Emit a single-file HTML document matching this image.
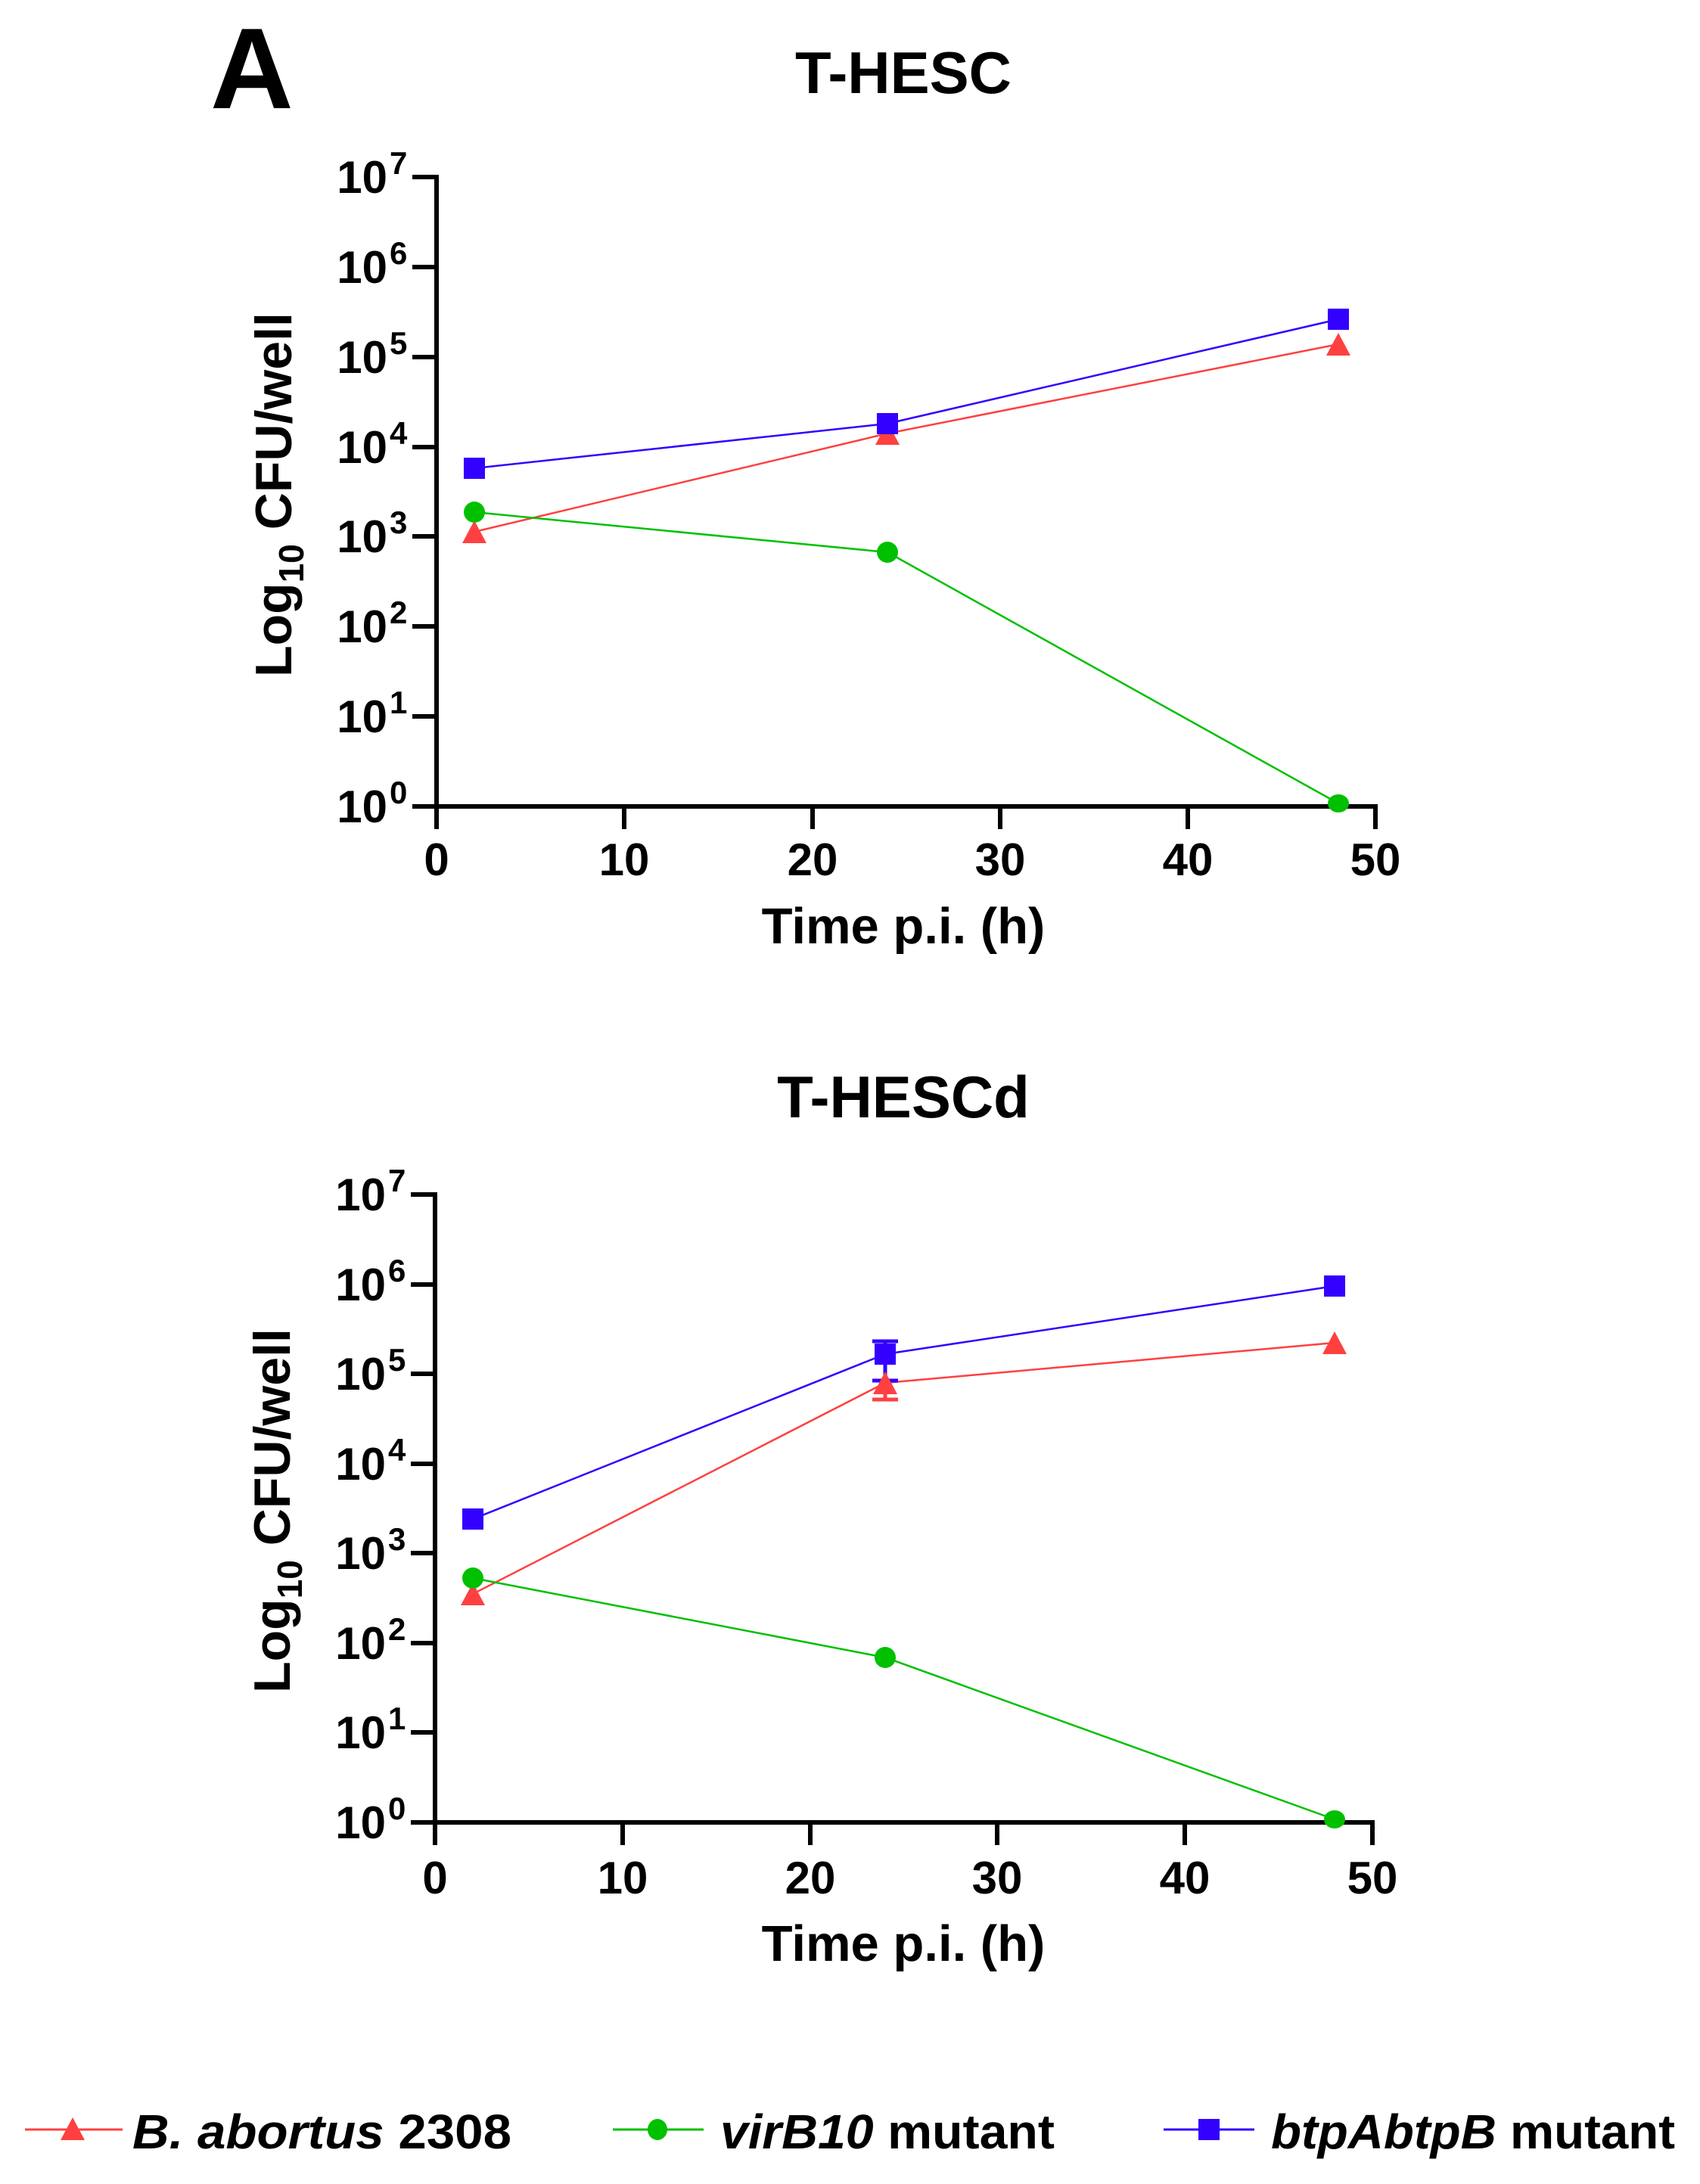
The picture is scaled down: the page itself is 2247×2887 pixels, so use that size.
<!DOCTYPE html>
<html><head><meta charset="utf-8"><style>
html,body{margin:0;padding:0;background:#fff;}
svg{display:block;}
text{font-family:"Liberation Sans",Arial,sans-serif;font-weight:bold;fill:#000;}
</style></head><body>
<svg width="2247" height="2887" viewBox="0 0 2247 2887" xmlns="http://www.w3.org/2000/svg">
<text x="278" y="143" font-size="152">A</text>

<!-- TOP PANEL -->
<text x="1194" y="123" font-size="78" text-anchor="middle">T-HESC</text>
<g stroke="#000" stroke-width="6" fill="none">
<line x1="577" y1="231" x2="577" y2="1069"/>
<line x1="574" y1="1066" x2="1821" y2="1066"/>
<line x1="545" y1="1066" x2="577" y2="1066"/><line x1="545" y1="947" x2="577" y2="947"/>
<line x1="545" y1="828" x2="577" y2="828"/><line x1="545" y1="709" x2="577" y2="709"/>
<line x1="545" y1="591" x2="577" y2="591"/><line x1="545" y1="472" x2="577" y2="472"/>
<line x1="545" y1="353" x2="577" y2="353"/><line x1="545" y1="234" x2="577" y2="234"/>
<line x1="577" y1="1066" x2="577" y2="1096"/><line x1="825" y1="1066" x2="825" y2="1096"/>
<line x1="1074" y1="1066" x2="1074" y2="1096"/><line x1="1322" y1="1066" x2="1322" y2="1096"/>
<line x1="1570" y1="1066" x2="1570" y2="1096"/><line x1="1818" y1="1066" x2="1818" y2="1096"/>
</g>
<g font-size="60" text-anchor="end">
<text x="512" y="1087">10</text><text x="512" y="968">10</text><text x="512" y="849">10</text><text x="512" y="730">10</text>
<text x="512" y="612">10</text><text x="512" y="493">10</text><text x="512" y="374">10</text><text x="512" y="255">10</text>
</g>
<g font-size="42">
<text x="515" y="1062">0</text><text x="515" y="943">1</text><text x="515" y="824">2</text><text x="515" y="705">3</text>
<text x="515" y="587">4</text><text x="515" y="468">5</text><text x="515" y="349">6</text><text x="515" y="230">7</text>
</g>
<g font-size="60" text-anchor="middle">
<text x="577" y="1157">0</text><text x="825" y="1157">10</text><text x="1074" y="1157">20</text>
<text x="1322" y="1157">30</text><text x="1570" y="1157">40</text><text x="1818" y="1157">50</text>
</g>
<text x="1194" y="1247" font-size="67" text-anchor="middle">Time p.i. (h)</text>
<text transform="translate(385,654) rotate(-90)" font-size="68" text-anchor="middle">Log<tspan font-size="46" dy="16">10</tspan><tspan dy="-16"> CFU/well</tspan></text>

<polyline points="627,703 1173,573 1769,455" fill="none" stroke="#ff4040" stroke-width="2.5"/>
<polyline points="627,677 1173,730 1769,1062" fill="none" stroke="#00c000" stroke-width="2.5"/>
<polyline points="627,619 1173,560 1769,422" fill="none" stroke="#3300ff" stroke-width="2.5"/>
<g fill="#ff4040">
<polygon points="627,688 643,718 611,718"/><polygon points="1173,558 1189,588 1157,588"/><polygon points="1769,440 1785,470 1753,470"/>
</g>
<g fill="#00c000">
<ellipse cx="627" cy="677" rx="14" ry="14"/><ellipse cx="1173" cy="730" rx="14" ry="14"/><ellipse cx="1769" cy="1062" rx="14" ry="12"/>
</g>
<g fill="#3300ff">
<rect x="613" y="605" width="28" height="28"/><rect x="1159" y="546" width="28" height="28"/><rect x="1755" y="408" width="28" height="28"/>
</g>

<!-- BOTTOM PANEL -->
<text x="1194" y="1477" font-size="78" text-anchor="middle">T-HESCd</text>
<g stroke="#000" stroke-width="6" fill="none">
<line x1="575" y1="1576" x2="575" y2="2412"/>
<line x1="572" y1="2409" x2="1817" y2="2409"/>
<line x1="543" y1="2409" x2="575" y2="2409"/><line x1="543" y1="2290" x2="575" y2="2290"/>
<line x1="543" y1="2172" x2="575" y2="2172"/><line x1="543" y1="2053" x2="575" y2="2053"/>
<line x1="543" y1="1935" x2="575" y2="1935"/><line x1="543" y1="1816" x2="575" y2="1816"/>
<line x1="543" y1="1698" x2="575" y2="1698"/><line x1="543" y1="1579" x2="575" y2="1579"/>
<line x1="575" y1="2409" x2="575" y2="2439"/><line x1="823" y1="2409" x2="823" y2="2439"/>
<line x1="1071" y1="2409" x2="1071" y2="2439"/><line x1="1318" y1="2409" x2="1318" y2="2439"/>
<line x1="1566" y1="2409" x2="1566" y2="2439"/><line x1="1814" y1="2409" x2="1814" y2="2439"/>
</g>
<g font-size="60" text-anchor="end">
<text x="510" y="2430">10</text><text x="510" y="2311">10</text><text x="510" y="2193">10</text><text x="510" y="2074">10</text>
<text x="510" y="1956">10</text><text x="510" y="1837">10</text><text x="510" y="1719">10</text><text x="510" y="1600">10</text>
</g>
<g font-size="42">
<text x="513" y="2405">0</text><text x="513" y="2286">1</text><text x="513" y="2168">2</text><text x="513" y="2049">3</text>
<text x="513" y="1931">4</text><text x="513" y="1812">5</text><text x="513" y="1694">6</text><text x="513" y="1575">7</text>
</g>
<g font-size="60" text-anchor="middle">
<text x="575" y="2503">0</text><text x="823" y="2503">10</text><text x="1071" y="2503">20</text>
<text x="1318" y="2503">30</text><text x="1566" y="2503">40</text><text x="1814" y="2503">50</text>
</g>
<text x="1194" y="2592" font-size="67" text-anchor="middle">Time p.i. (h)</text>
<text transform="translate(383,1997) rotate(-90)" font-size="68" text-anchor="middle">Log<tspan font-size="46" dy="16">10</tspan><tspan dy="-16"> CFU/well</tspan></text>

<polyline points="625,2107 1170,1828 1764,1775" fill="none" stroke="#ff4040" stroke-width="2.5"/>
<polyline points="625,2086 1170,2191 1764,2405" fill="none" stroke="#00c000" stroke-width="2.5"/>
<polyline points="625,2008 1170,1790 1764,1700" fill="none" stroke="#3300ff" stroke-width="2.5"/>
<g stroke="#ff4040" stroke-width="5"><line x1="1170" y1="1828" x2="1170" y2="1850"/><line x1="1153" y1="1850" x2="1187" y2="1850"/></g>
<g stroke="#3300ff" stroke-width="5"><line x1="1170" y1="1773" x2="1170" y2="1825"/><line x1="1153" y1="1773" x2="1187" y2="1773"/><line x1="1153" y1="1825" x2="1187" y2="1825"/></g>
<g fill="#ff4040">
<polygon points="625,2092 641,2122 609,2122"/><polygon points="1170,1813 1186,1843 1154,1843"/><polygon points="1764,1760 1780,1790 1748,1790"/>
</g>
<g fill="#00c000">
<ellipse cx="625" cy="2086" rx="14" ry="14"/><ellipse cx="1170" cy="2191" rx="14" ry="14"/><ellipse cx="1764" cy="2405" rx="14" ry="12"/>
</g>
<g fill="#3300ff">
<rect x="611" y="1994" width="28" height="28"/><rect x="1156" y="1776" width="28" height="28"/><rect x="1750" y="1686" width="28" height="28"/>
</g>

<!-- LEGEND -->
<line x1="33" y1="2815" x2="162" y2="2815" stroke="#ff4040" stroke-width="3"/>
<polygon points="96,2799 112,2829 80,2829" fill="#ff4040"/>
<text x="175" y="2840" font-size="64" font-style="italic" textLength="501" lengthAdjust="spacingAndGlyphs">B. abortus <tspan font-style="normal">2308</tspan></text>
<line x1="810" y1="2815" x2="930" y2="2815" stroke="#00c000" stroke-width="3"/>
<ellipse cx="869" cy="2815" rx="13" ry="14" fill="#00c000"/>
<text x="952" y="2840" font-size="64" textLength="442" lengthAdjust="spacingAndGlyphs"><tspan font-style="italic">virB10</tspan> mutant</text>
<line x1="1538" y1="2815" x2="1658" y2="2815" stroke="#3300ff" stroke-width="3"/>
<rect x="1584" y="2801" width="28" height="28" fill="#3300ff"/>
<text x="1680" y="2840" font-size="64" textLength="534" lengthAdjust="spacingAndGlyphs"><tspan font-style="italic">btpAbtpB</tspan> mutant</text>
</svg>
</body></html>
